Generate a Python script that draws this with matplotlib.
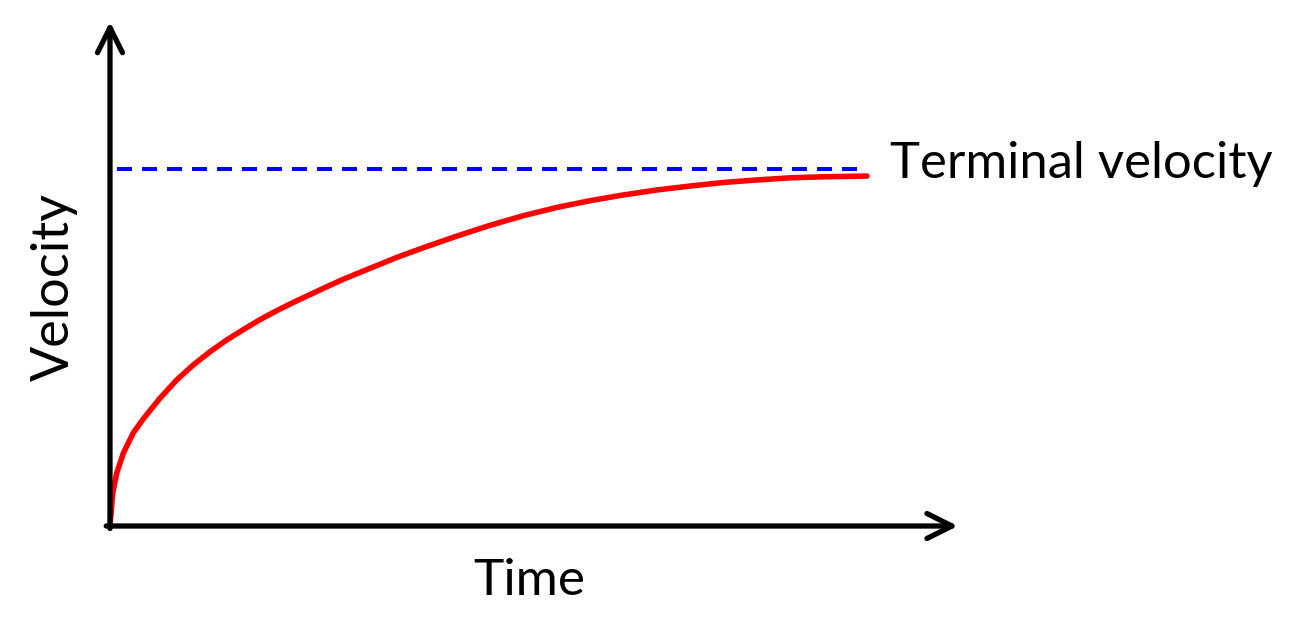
import matplotlib
matplotlib.use('Agg')
from matplotlib import pyplot as plt

# values (arbitrary units, terminal velocity = 10)
time = [0.0, 0.036, 0.089, 0.176, 0.308, 0.440, 0.661, 0.881, 1.100, 1.321,
        1.542, 1.761, 1.982, 2.202, 2.421, 2.642, 2.863, 3.104, 3.346, 3.567,
        3.787, 4.135, 4.584, 5.020, 5.460, 5.901, 6.341, 6.781, 7.222, 7.662,
        8.102, 8.543, 8.983, 9.423, 10.0]
velocity = [0.0, 0.92, 1.48, 2.04, 2.61, 3.00, 3.58, 4.09, 4.51, 4.88,
            5.21, 5.50, 5.78, 6.03, 6.26, 6.48, 6.70, 6.93, 7.14, 7.33,
            7.52, 7.79, 8.12, 8.42, 8.69, 8.92, 9.11, 9.27, 9.41, 9.52,
            9.62, 9.69, 9.75, 9.78, 9.80]
terminal_velocity = 10.0
terminal_span = [0.09, 10.0]

plt.rcParams['font.family'] = ['Lato', 'DejaVu Sans']
plt.rcParams['lines.scale_dashes'] = False

fig = plt.figure(figsize=(13, 6.26), dpi=100)
ax = fig.add_axes([0, 0, 1, 1])
ax.set_xlim(-1.453, 15.72)
ax.set_ylim(-2.80, 14.73)
ax.axis('off')

# axes drawn as arrows
arrow = dict(arrowstyle='->,head_length=0.6,head_width=0.3', lw=3.8,
             color='black', mutation_scale=30, shrinkA=0, shrinkB=0)
ax.annotate('', xy=(0, 14.12), xytext=(0, -0.07), arrowprops=arrow)
ax.annotate('', xy=(11.2, 0), xytext=(-0.05, 0), arrowprops=arrow)

ax.plot(terminal_span, [terminal_velocity, terminal_velocity], color='blue',
        lw=2.9, dashes=(10.8, 7.2))
ax.plot(time, velocity, color='red', lw=4.0, solid_capstyle='round',
        solid_joinstyle='round')

ax.text(10.3, 9.75, 'Terminal velocity', fontsize=36.5, ha='left',
        va='baseline')
ax.text(5.535, -1.55, 'Time', fontsize=37, ha='center', va='center')
ax.text(-0.73, 6.7, 'Velocity', fontsize=37.5, ha='center', va='center',
        rotation=90)

fig.savefig('out.png', dpi=100)
